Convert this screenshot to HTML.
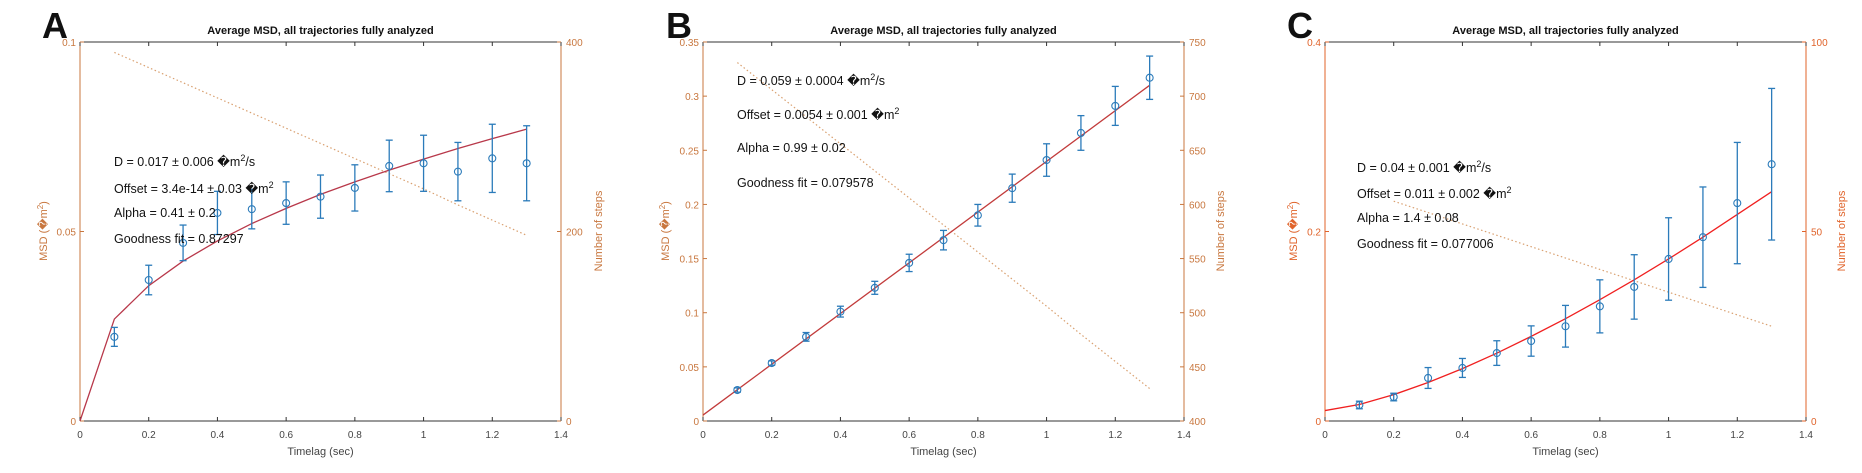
<!DOCTYPE html>
<html><head><meta charset="utf-8"><style>
html,body{margin:0;padding:0;background:#fff;}
svg{display:block;font-family:"Liberation Sans",Arial,sans-serif;}
</style></head><body>
<svg id="fig" width="1862" height="473" viewBox="0 0 1862 473"></svg>
<script>
const lagsA = [0.1,0.2,0.3,0.4,0.5,0.6,0.7,0.8,0.9,1.0,1.1,1.2,1.3];
const msdA = [0.0222,0.0372,0.047,0.0549,0.0559,0.0575,0.0592,0.0615,0.0673,0.068,0.0658,0.0693,0.068];
const errA = [0.0025,0.0039,0.0047,0.0057,0.0052,0.0056,0.0057,0.0061,0.0068,0.0074,0.0077,0.009,0.0099];
const fitLagsA = [0,0.1,0.2,0.3,0.4,0.5,0.6,0.7,0.8,0.9,1.0,1.1,1.2,1.3];
const fitA = [0,0.0269,0.0357,0.0422,0.0475,0.0521,0.0561,0.0598,0.0631,0.0662,0.0691,0.0719,0.0745,0.077];
const stepLagsA = [0.1,0.2,0.3,0.4,0.5,0.6,0.7,0.8,0.9,1.0,1.1,1.2,1.3];
const stepsA = [389,373,357,341,325,309,293,277,261,245,228,212,196];
const yTicksA = [0,0.05,0.1];
const yTickLabelsA = ["0","0.05","0.1"];
const rTicksA = [0,200,400];

const lagsB = [0.1,0.2,0.3,0.4,0.5,0.6,0.7,0.8,0.9,1.0,1.1,1.2,1.3];
const msdB = [0.0286,0.0535,0.0777,0.101,0.123,0.146,0.167,0.19,0.215,0.241,0.266,0.291,0.317];
const errB = [0.002,0.002,0.004,0.005,0.006,0.008,0.009,0.01,0.013,0.015,0.016,0.018,0.02];
const fitLagsB = [0,1.3];
const fitB = [0.0055,0.31];
const stepLagsB = [0.1,0.2,0.3,0.4,0.5,0.6,0.7,0.8,0.9,1.0,1.1,1.2,1.3];
const stepsB = [731,706,681,656,631,606,581,556,531,506,480,455,430];
const yTicksB = [0,0.05,0.1,0.15,0.2,0.25,0.3,0.35];
const yTickLabelsB = ["0","0.05","0.1","0.15","0.2","0.25","0.3","0.35"];
const rTicksB = [400,450,500,550,600,650,700,750];

const lagsC = [0.1,0.2,0.3,0.4,0.5,0.6,0.7,0.8,0.9,1.0,1.1,1.2,1.3];
const msdC = [0.0169,0.0253,0.0454,0.056,0.0717,0.0844,0.1,0.121,0.1415,0.171,0.194,0.23,0.271];
const errC = [0.004,0.004,0.011,0.01,0.013,0.016,0.022,0.028,0.034,0.0435,0.053,0.064,0.08];
const fitLagsC = [0,0.1,0.2,0.3,0.4,0.5,0.6,0.7,0.8,0.9,1.0,1.1,1.2,1.3];
const fitC = [0.011,0.0174,0.0278,0.0406,0.0553,0.0716,0.0893,0.108,0.128,0.149,0.171,0.194,0.218,0.242];
const stepLagsC = [0.2,0.3,0.4,0.5,0.6,0.7,0.8,0.9,1.0,1.1,1.2,1.3];
const stepsC = [58,55,52,49,46,43,40,37,34,31,28,25];
const yTicksC = [0,0.2,0.4];
const yTickLabelsC = ["0","0.2","0.4"];
const rTicksC = [0,50,100];

const xTicks = [0,0.2,0.4,0.6,0.8,1,1.2,1.4];
const xTickLabels = ["0","0.2","0.4","0.6","0.8","1","1.2","1.4"];

const NS = "http://www.w3.org/2000/svg";
const svg = document.getElementById('fig');
function mk(tag, attrs, parent, text){
  const e = document.createElementNS(NS, tag);
  for (const k in attrs) e.setAttribute(k, attrs[k]);
  if (text !== undefined) e.textContent = text;
  (parent || svg).appendChild(e);
  return e;
}

function panel(p){
  const g = mk('g', {});
  
  
  const top = 42, bot = 421, L = p.left, R = p.left + 481;
  const sx = v => L + v / 1.4 * (R - L);
  const sy = v => bot - (v - p.ymin) / (p.ymax - p.ymin) * (bot - top);
  const sr = v => bot - (v - p.rmin) / (p.rmax - p.rmin) * (bot - top);

  const letter = mk('text', {x: p.letterX, y: 38, 'font-size': 36, 'font-weight': 'bold', fill: '#111'}, g, p.id);
  
  
  const title = mk('text', {x: (L + R) / 2, y: 34, 'font-size': 11, 'font-weight': 'bold', 'text-anchor': 'middle', fill: '#111'}, g, 'Average MSD, all trajectories fully analyzed');
  
  

  // box top & bottom
  mk('line', {x1: L, y1: top, x2: R, y2: top, stroke: '#333', 'stroke-width': 1}, g);
  const xa = mk('line', {x1: L, y1: bot, x2: R, y2: bot, stroke: '#333', 'stroke-width': 1}, g);
  
  
  const ya = mk('line', {x1: L, y1: top, x2: L, y2: bot, stroke: p.axisColor, 'stroke-width': 1}, g);
  
  
  const ra = mk('line', {x1: R, y1: top, x2: R, y2: bot, stroke: p.axisColor, 'stroke-width': 1}, g);
  
  

  xTicks.forEach((t, i) => {
    const x = sx(t);
    mk('line', {x1: x, y1: bot, x2: x, y2: bot - 4, stroke: '#333'}, g);
    mk('line', {x1: x, y1: top, x2: x, y2: top + 4, stroke: '#333'}, g);
    const tl = mk('text', {x: x, y: 438, 'font-size': 10, 'text-anchor': 'middle', fill: '#444'}, g, xTickLabels[i]);
    
    
  });
  p.yTicks.forEach((t, i) => {
    const y = sy(t);
    mk('line', {x1: L, y1: y, x2: L + 4, y2: y, stroke: p.axisColor}, g);
    const tl = mk('text', {x: L - 4, y: y + 4, 'font-size': 10, 'text-anchor': 'end', fill: p.axisColor}, g, p.yTickLabels[i]);
    
    
  });
  p.rTicks.forEach(t => {
    const y = sr(t);
    mk('line', {x1: R, y1: y, x2: R - 4, y2: y, stroke: p.axisColor}, g);
    const tl = mk('text', {x: R + 5, y: y + 4, 'font-size': 10, 'text-anchor': 'start', fill: p.axisColor}, g, String(t));
    
    
  });

  const xl = mk('text', {x: (L + R) / 2, y: 455, 'font-size': 11, 'text-anchor': 'middle', fill: '#444'}, g, 'Timelag (sec)');
  
  
  const yl = mk('text', {x: 0, y: 0, 'font-size': 11, 'text-anchor': 'middle', fill: p.axisColor, transform: `translate(${p.yLabelX},231) rotate(-90)`}, g);
  
  
  yl.appendChild(document.createTextNode('MSD (\uFFFDm'));
  mk('tspan', {dy: -4, 'font-size': 8}, yl, '2');
  mk('tspan', {dy: 4}, yl, ')');
  const rl = mk('text', {x: 0, y: 0, 'font-size': 11, 'text-anchor': 'middle', fill: p.axisColor, transform: `translate(${p.rLabelX},231) rotate(-90)`}, g, 'Number of steps');
  
  

  // steps dotted line
  const sp = p.stepLags.map((t, i) => sx(t) + ',' + sr(p.steps[i])).join(' ');
  const sl = mk('polyline', {points: sp, fill: 'none', stroke: '#d9a070', 'stroke-width': 1.2, 'stroke-dasharray': '1.5 2.5'}, g);
  
  

  // fit line
  const fp = p.fitLags.map((t, i) => sx(t) + ',' + sy(p.fit[i])).join(' ');
  const fl = mk('polyline', {points: fp, fill: 'none', stroke: p.fitColor, 'stroke-width': 1.3}, g);
  
  

  // error bars
  p.lags.forEach((t, i) => {
    const x = sx(t), y1 = sy(p.msd[i] - p.err[i]), y2 = sy(p.msd[i] + p.err[i]), y = sy(p.msd[i]);
    const eg = mk('g', {stroke: '#2b7bba', 'stroke-width': 1.3, fill: 'none'}, g);
    
    
    mk('line', {x1: x, y1: y1, x2: x, y2: y2}, eg);
    mk('line', {x1: x - 3.5, y1: y1, x2: x + 3.5, y2: y1}, eg);
    mk('line', {x1: x - 3.5, y1: y2, x2: x + 3.5, y2: y2}, eg);
    mk('circle', {cx: x, cy: y, r: 3.5, 'stroke-width': 1.1}, eg);
  });

  // annotations
  const ag = mk('g', {'font-size': 12.5, fill: '#111'}, g);
  
  
  p.notes.forEach((n, i) => {
    const t = mk('text', {x: p.noteX, y: p.noteY[i] + 5}, ag);
    
    
    t.appendChild(document.createTextNode(n[0]));
    if (n[1] !== undefined) {
      mk('tspan', {dy: -5, 'font-size': 9}, t, n[1]);
      mk('tspan', {dy: 5}, t, n[2]);
    }
  });
}

panel({id: 'A', left: 80, letterX: 42, ymin: 0, ymax: 0.1, rmin: 0, rmax: 400, axisColor: '#c8773f', fitColor: '#b8384a',
  yTicks: yTicksA, yTickLabels: yTickLabelsA, rTicks: rTicksA, yLabelX: 47, rLabelX: 602,
  lags: lagsA, msd: msdA, err: errA, fitLags: fitLagsA, fit: fitA, stepLags: stepLagsA, steps: stepsA,
  noteX: 114, noteY: [161, 188, 212, 238],
  notes: [['D = 0.017 \u00B1 0.006 \uFFFDm', '2', '/s'], ['Offset = 3.4e-14 \u00B1 0.03 \uFFFDm', '2', ''], ['Alpha = 0.41 \u00B1 0.2'], ['Goodness fit = 0.87297']]});
panel({id: 'B', left: 703, letterX: 666, ymin: 0, ymax: 0.35, rmin: 400, rmax: 750, axisColor: '#c8773f', fitColor: '#c23b3b',
  yTicks: yTicksB, yTickLabels: yTickLabelsB, rTicks: rTicksB, yLabelX: 669, rLabelX: 1224,
  lags: lagsB, msd: msdB, err: errB, fitLags: fitLagsB, fit: fitB, stepLags: stepLagsB, steps: stepsB,
  noteX: 737, noteY: [80, 114, 147, 182],
  notes: [['D = 0.059 \u00B1 0.0004 \uFFFDm', '2', '/s'], ['Offset = 0.0054 \u00B1 0.001 \uFFFDm', '2', ''], ['Alpha = 0.99 \u00B1 0.02'], ['Goodness fit = 0.079578']]});
panel({id: 'C', left: 1325, letterX: 1287, ymin: 0, ymax: 0.4, rmin: 0, rmax: 100, axisColor: '#e0632a', fitColor: '#f02020',
  yTicks: yTicksC, yTickLabels: yTickLabelsC, rTicks: rTicksC, yLabelX: 1297, rLabelX: 1845,
  lags: lagsC, msd: msdC, err: errC, fitLags: fitLagsC, fit: fitC, stepLags: stepLagsC, steps: stepsC,
  noteX: 1357, noteY: [167, 193, 217, 243],
  notes: [['D = 0.04 \u00B1 0.001 \uFFFDm', '2', '/s'], ['Offset = 0.011 \u00B1 0.002 \uFFFDm', '2', ''], ['Alpha = 1.4 \u00B1 0.08'], ['Goodness fit = 0.077006']]});
</script>
</body></html>
